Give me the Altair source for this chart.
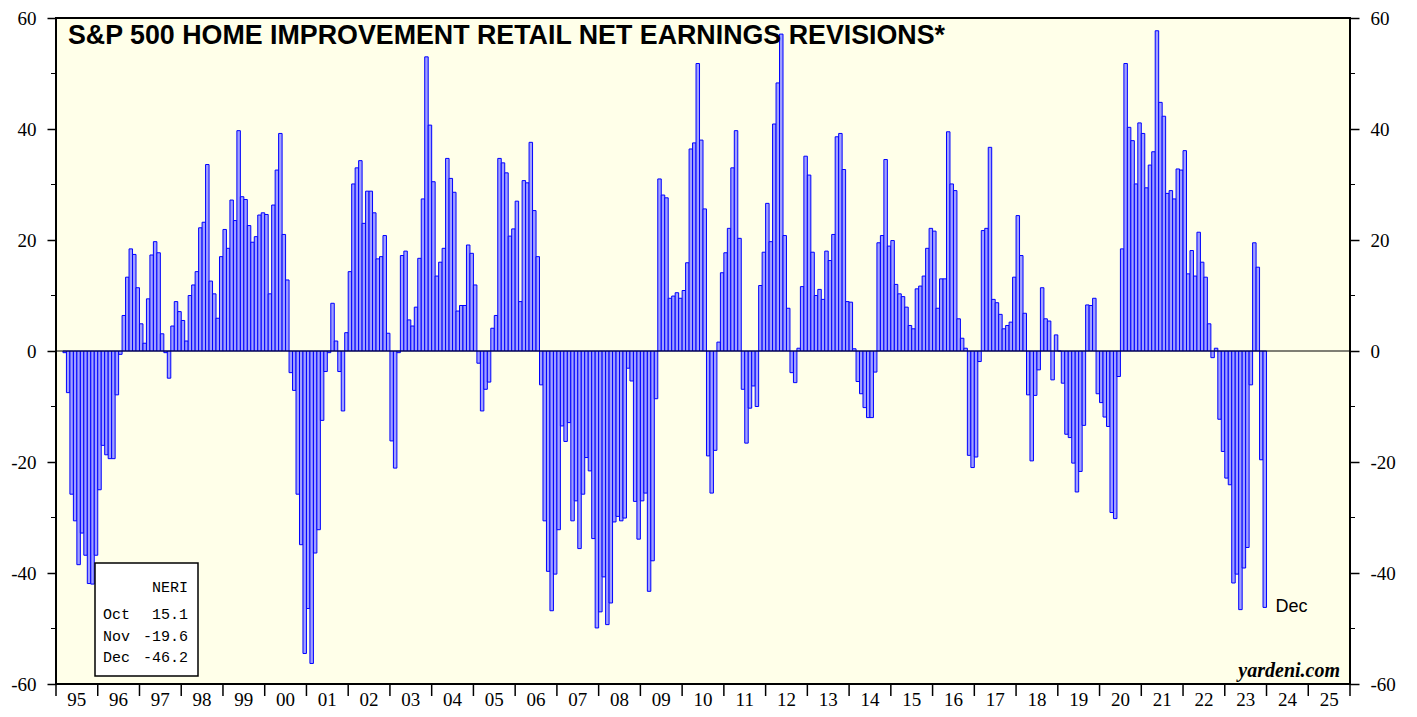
import altair as alt
import pandas as pd

# ---- data (S&P 500 Home Improvement Retail NERI, monthly, starts Mar 1995) ----
START_YEAR = 1995
START_MONTH = 3
NERI_1995 = [-0.3, -7.5, -25.8, -30.6, -38.5, -32.8, -36.8, -41.9, -42.0, -36.8]
NERI_1996 = [-25.0, -17.0, -18.7, -19.4, -19.4, -7.9, -0.6, 6.4, 13.3, 18.4, 17.4, 11.4]
NERI_1997 = [4.9, 1.4, 9.4, 17.3, 19.7, 17.7, 3.1, -0.3, -4.9, 4.5, 8.9, 7.1]
NERI_1998 = [5.5, 1.8, 10.0, 11.9, 14.3, 22.2, 23.2, 33.6, 12.6, 10.3, 5.9, 17.0]
NERI_1999 = [21.9, 18.5, 27.2, 23.5, 39.7, 27.8, 27.3, 22.6, 19.6, 20.6, 24.5, 24.9]
NERI_2000 = [24.6, 10.3, 26.3, 32.6, 39.2, 21.0, 12.8, -3.9, -7.1, -25.8, -34.9, -54.5]
NERI_2001 = [-46.4, -56.3, -36.4, -32.2, -12.5, -3.7, -0.3, 8.6, 1.8, -3.7, -10.8, 3.3]
NERI_2002 = [14.3, 30.1, 33.0, 34.3, 23.0, 28.8, 28.8, 24.9, 16.6, 17.0, 20.8, 3.2]
NERI_2003 = [-16.2, -21.1, -0.3, 17.2, 18.0, 5.6, 4.5, 7.9, 16.7, 27.4, 53.0, 40.7]
NERI_2004 = [30.5, 13.5, 16.0, 18.5, 34.7, 31.1, 28.6, 7.2, 8.2, 8.2, 19.1, 17.6]
NERI_2005 = [11.9, -2.2, -10.8, -6.9, -5.6, 4.1, 6.4, 34.7, 33.9, 32.1, 20.7, 22.0]
NERI_2006 = [27.0, 8.9, 30.7, 30.3, 37.6, 25.3, 17.0, -6.1, -30.6, -39.7, -46.8, -40.2]
NERI_2007 = [-32.2, -13.5, -16.3, -12.9, -30.6, -27.0, -35.6, -25.8, -19.2, -21.6, -33.8, -49.9]
NERI_2008 = [-47.0, -40.7, -49.3, -45.4, -30.8, -29.8, -30.6, -30.1, -3.1, -5.4, -27.1, -33.9]
NERI_2009 = [-27.0, -25.6, -43.3, -37.8, -8.6, 31.0, 28.1, 27.6, 9.5, 9.9, 10.5, 9.5]
NERI_2010 = [10.9, 15.9, 36.4, 37.5, 51.8, 38.0, 25.6, -18.9, -25.6, -17.9, 1.6, 14.1]
NERI_2011 = [17.7, 22.1, 33.0, 39.7, 20.3, -6.9, -16.6, -10.3, -6.3, -10.0, 11.8, 17.8]
NERI_2012 = [26.6, 19.7, 40.9, 48.3, 57.1, 20.8, 7.7, -3.9, -5.7, 0.5, 11.6, 35.1]
NERI_2013 = [31.7, 17.8, 10.0, 11.1, 9.3, 18.0, 16.3, 21.0, 38.6, 39.2, 32.7, 8.9]
NERI_2014 = [8.8, 0.4, -5.5, -7.7, -10.2, -12.0, -12.0, -3.8, 19.5, 20.8, 34.5, 18.9]
NERI_2015 = [19.9, 12.0, 10.3, 9.8, 7.9, 4.6, 4.0, 11.2, 11.7, 13.5, 18.5, 22.1]
NERI_2016 = [21.6, 7.7, 13.0, 13.0, 39.5, 30.1, 28.9, 5.8, 2.3, 0.5, -18.8, -21.0]
NERI_2017 = [-19.1, -1.9, 21.7, 22.1, 36.7, 9.3, 8.7, 6.6, 4.0, 4.6, 5.2, 13.3]
NERI_2018 = [24.4, 17.2, 6.8, -7.9, -19.8, -8.0, -3.4, 11.4, 5.8, 5.4, -5.2, 2.9]
NERI_2019 = [0.0, -5.8, -15.0, -15.6, -20.2, -25.4, -21.7, -13.4, 8.3, 8.2, 9.5, -7.7]
NERI_2020 = [-9.3, -11.9, -13.6, -29.1, -30.2, -4.6, 18.4, 51.8, 40.3, 37.9, 30.1, 41.1]
NERI_2021 = [39.2, 29.4, 33.5, 35.9, 57.7, 44.8, 42.3, 28.4, 28.9, 27.4, 32.8, 32.6]
NERI_2022 = [36.1, 13.9, 18.1, 13.5, 21.4, 16.0, 13.3, 4.9, -1.2, 0.5, -12.3, -18.1]
NERI_2023 = [-22.9, -24.1, -41.8, -40.2, -46.6, -39.1, -35.4, -6.1, 19.5, 15.1, -19.6, -46.2]

YEARS_AXIS = list(range(1995, 2026))          # year labels 95 ... 25
YEAR_LABELS = [f"{y % 100:02d}" for y in YEARS_AXIS]
Y_MAJOR = [-60, -40, -20, 0, 20, 40, 60]
Y_MINOR = [-50, -30, -10, 10, 30, 50]
LEGEND_HEAD = "NERI"
LEGEND_MONTHS = ["Oct", "Nov", "Dec"]
LEGEND_VALUES = [15.1, -19.6, -46.2]
TITLE = "S&P 500 HOME IMPROVEMENT RETAIL NET EARNINGS REVISIONS*"
SOURCE = "yardeni.com"

SERIES = [NERI_1995, NERI_1996, NERI_1997, NERI_1998, NERI_1999, NERI_2000,
          NERI_2001, NERI_2002, NERI_2003, NERI_2004, NERI_2005, NERI_2006,
          NERI_2007, NERI_2008, NERI_2009, NERI_2010, NERI_2011, NERI_2012,
          NERI_2013, NERI_2014, NERI_2015, NERI_2016, NERI_2017, NERI_2018,
          NERI_2019, NERI_2020, NERI_2021, NERI_2022, NERI_2023]

rows = []
for k, vals in enumerate(SERIES):
    year = START_YEAR + k
    m0 = START_MONTH - 1 if k == 0 else 0
    for j, v in enumerate(vals):
        m = m0 + j
        rows.append({"t": year + m / 12.0, "t2": year + (m + 1) / 12.0, "v": v, "zero": 0})
df = pd.DataFrame(rows)

W, H = 1294, 666
SERIF = "Liberation Serif, Times New Roman, serif"
SANS = "Liberation Sans, Arial, sans-serif"
MONO = "Liberation Mono, Courier New, monospace"

xs = alt.Scale(domain=[YEARS_AXIS[0], YEARS_AXIS[-1] + 1], nice=False, zero=False)
ys = alt.Scale(domain=[Y_MAJOR[0], Y_MAJOR[-1]], nice=False, zero=False)

bars = alt.Chart(df).mark_rect(fill="#A0A0FF", stroke="#0000FF", strokeWidth=1).encode(
    x=alt.X("t:Q", scale=xs, axis=None),
    x2="t2:Q",
    y=alt.Y("v:Q", scale=ys, axis=alt.Axis(
        orient="left", values=Y_MAJOR, labelExpr="toString(datum.value)",
        tickSize=9, tickColor="black", tickWidth=1.5, domain=False, grid=False, title=None,
        labelFont=SERIF, labelFontSize=19, labelColor="black", labelPadding=11,
        labelFlush=False, labelOverlap=False)),
    y2="zero:Q",
)

zero_line = alt.Chart(pd.DataFrame({"y": [0]})).mark_rule(color="black", strokeWidth=1.2).encode(
    y=alt.Y("y:Q", scale=ys, axis=alt.Axis(
        orient="right", values=Y_MAJOR, labelExpr="toString(datum.value)",
        tickSize=9, tickColor="black", tickWidth=1.5, domain=False, grid=False, title=None,
        labelFont=SERIF, labelFontSize=19, labelColor="black", labelPadding=11,
        labelFlush=False, labelOverlap=False)),
)

minor_df = pd.DataFrame({"y": Y_MINOR})
minor_left = alt.Chart(minor_df).mark_rule(color="black", strokeWidth=1).encode(
    y=alt.Y("y:Q", scale=ys, axis=None), x=alt.value(-5), x2=alt.value(0))
minor_right = alt.Chart(minor_df).mark_rule(color="black", strokeWidth=1).encode(
    y=alt.Y("y:Q", scale=ys, axis=None), x=alt.value(W), x2=alt.value(W + 5))

year_ticks = alt.Chart(pd.DataFrame({"yr": YEARS_AXIS + [YEARS_AXIS[-1] + 1]})).mark_rule(
    color="black", strokeWidth=1.5).encode(
    x=alt.X("yr:Q", scale=xs, axis=None), y=alt.value(H), y2=alt.value(H + 12))

year_df = pd.DataFrame({"mid": [y + 0.5 for y in YEARS_AXIS], "lab": YEAR_LABELS})
year_labels = alt.Chart(year_df).mark_text(
    align="center", baseline="alphabetic", font=SERIF, fontSize=19, color="black"
).encode(x=alt.X("mid:Q", scale=xs, axis=None), y=alt.value(H + 22), text="lab:N")

title = alt.Chart(pd.DataFrame({"s": [TITLE]})).mark_text(
    align="left", baseline="alphabetic", font=SANS, fontWeight="bold", fontSize=26.8, color="black"
).encode(x=alt.value(12), y=alt.value(26), text="s:N")

box = alt.Chart(pd.DataFrame({"a": [1]})).mark_rect(fill="white", stroke="black", strokeWidth=1.5).encode(
    x=alt.value(39), x2=alt.value(142), y=alt.value(545), y2=alt.value(658))

legend_head = alt.Chart(pd.DataFrame({"s": [LEGEND_HEAD]})).mark_text(
    align="right", baseline="alphabetic", font=MONO, fontSize=15, color="black"
).encode(x=alt.value(132), y=alt.value(574), text="s:N")

legend_layers = [box, legend_head]
for i, (m, v) in enumerate(zip(LEGEND_MONTHS, LEGEND_VALUES)):
    yy = 601 + 21.5 * i
    legend_layers.append(alt.Chart(pd.DataFrame({"s": [m]})).mark_text(
        align="left", baseline="alphabetic", font=MONO, fontSize=15, color="black"
    ).encode(x=alt.value(47), y=alt.value(yy), text="s:N"))
    legend_layers.append(alt.Chart(pd.DataFrame({"s": [f"{v:.1f}"]})).mark_text(
        align="right", baseline="alphabetic", font=MONO, fontSize=15, color="black"
    ).encode(x=alt.value(132), y=alt.value(yy), text="s:N"))

last = df.iloc[[-1]].assign(lab=LEGEND_MONTHS[-1])
dec_label = alt.Chart(last).mark_text(
    align="left", baseline="middle", font=SANS, fontSize=18, color="black", dx=9
).encode(x=alt.X("t2:Q", scale=xs, axis=None), y=alt.Y("v:Q", scale=ys, axis=None), text="lab:N")

source = alt.Chart(pd.DataFrame({"s": [SOURCE]})).mark_text(
    align="right", baseline="alphabetic", font=SERIF, fontWeight="bold", fontStyle="italic",
    fontSize=20, color="black"
).encode(x=alt.value(1284), y=alt.value(659), text="s:N")

chart = alt.layer(
    bars, zero_line, minor_left, minor_right, year_ticks, year_labels, title,
    *legend_layers, dec_label, source
).resolve_axis(y="independent").properties(
    width=W, height=H,
    autosize=alt.AutoSizeParams(type="none"),
    padding={"left": 48, "top": 10, "right": 50, "bottom": 25},
    background="white",
).configure_view(fill="#FFFFE9", stroke="black", strokeWidth=2)

chart.save("out.html", embed_options={"renderer": "svg", "actions": False})
